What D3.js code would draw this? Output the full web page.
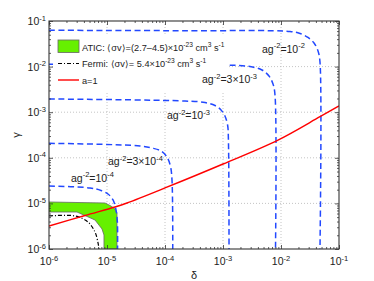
<!DOCTYPE html>
<html>
<head>
<meta charset="utf-8">
<script src="https://cdn.jsdelivr.net/npm/d3@7"></script>
<style>
body { margin: 0; background: #fff; }
text { font-family: "Liberation Sans", Arial, Helvetica, sans-serif; fill: #222; }
</style>
</head>
<body>
<div id="chart"></div>
<script>

// major decades on both axes
var decades = [1e-6, 1e-5, 1e-4, 1e-3, 1e-2, 1e-1];
var decadeLabels = ["10^{-6}", "10^{-5}", "10^{-4}", "10^{-3}", "10^{-2}", "10^{-1}"];

// blue dashed contours, [delta, gamma]
var curveAg1e2 = [[1e-6, 6.25e-2], [2.21e-4, 6.12e-2], [1.43e-2, 5.88e-2], [2.13e-2, 5.32e-2],
    [2.92e-2, 4.35e-2], [3.71e-2, 3.29e-2], [4.35e-2, 2.2e-2], [4.7e-2, 1.26e-2], [4.7e-2, 1e-6]];
var curveAg3e3 = [[1e-6, 1.12e-2], [1.17e-3, 1.08e-2], [2.92e-3, 1.0e-2], [4.7e-3, 8.42e-3],
    [6.21e-3, 6.22e-3], [7.28e-3, 4.15e-3], [7.88e-3, 2.38e-3], [8.04e-3, 1e-6]];
var curveAg1e3 = [[1e-6, 1.95e-3], [2.21e-4, 1.76e-3], [4.9e-4, 1.63e-3], [7.28e-4, 1.40e-3],
    [9.25e-4, 1.12e-3], [1.08e-3, 8.26e-4], [1.20e-3, 5.24e-4], [1.24e-3, 2.45e-4], [1.27e-3, 1e-6]];
var curveAg3e4 = [[1e-6, 2.08e-4], [3.71e-5, 1.82e-4], [5.97e-5, 1.64e-4], [8.53e-5, 1.41e-4],
    [1.08e-4, 1.04e-4], [1.24e-4, 6.61e-5], [1.32e-4, 3.26e-5], [1.36e-4, 1e-6]];
var curveAg1e4 = [[1e-6, 2.41e-5], [5.09e-6, 2.18e-5], [7.88e-6, 1.92e-5], [1.04e-5, 1.61e-5],
    [1.27e-5, 1.19e-5], [1.43e-5, 7.16e-6], [1.51e-5, 3.91e-6], [1.52e-5, 1e-6]];

var curveLabels = ["ag^{-2}=10^{-2}", "ag^{-2}=3\u00d710^{-3}", "ag^{-2}=10^{-3}",
    "ag^{-2}=3\u00d710^{-4}", "ag^{-2}=10^{-4}"];
// where each label starts (left, baseline), in data units
var labelAnchors = [[4.7e-3, 2.02e-2], [4.35e-4, 4.31e-3], [1.08e-4, 7.1e-4],
    [1.04e-5, 6.95e-5], [2.39e-6, 2.99e-5]];

// ATIC band: outer edge then inner edge
var aticOuter = [[1e-6, 1.074e-5], [9.25e-6, 1.02e-5], [1.17e-5, 8.77e-6], [1.37e-5, 7.53e-6],
    [1.486e-5, 6.15e-6], [1.486e-5, 1e-6]];
var aticInner = [[1e-6, 6.47e-6], [3.04e-6, 6.47e-6], [6.21e-6, 4.33e-6], [8.2e-6, 2.75e-6],
    [8.87e-6, 2.03e-6], [8.87e-6, 1e-6]];

// Fermi curve
var fermi = [[1e-6, 5.3e-6], [2.81e-6, 5.3e-6], [4.7e-6, 3.91e-6], [6.21e-6, 2.36e-6],
    [7.0e-6, 1.36e-6], [7.28e-6, 1e-6]];

// a = 1
var aOne = [[1e-6, 3.19e-6], [4.18e-6, 5.43e-6], [1.37e-5, 8.34e-6], [2.21e-5, 1.02e-5],
    [1e-4, 2.18e-5], [1e-3, 7.31e-5], [8.87e-3, 2.45e-4], [4.7e-2, 7.96e-4], [1e-1, 1.37e-3]];

var legendLabels = ["ATIC: \u27e8\u03c3v\u27e9=(2.7\u20134.5)\u00d710^{-23} cm^{3} s^{-1}",
    "Fermi: \u27e8\u03c3v\u27e9= 5.4\u00d710^{-23} cm^{3} s^{-1}", "a=1"];

//////////////////////////////////////////////////////////

var W = 374, H = 281,
    pl = 49, pr = 339, pt = 21, pb = 249;

var blue = "#2248ff";

var svg = d3.select("#chart").append("svg")
    .attr("width", W).attr("height", H);

var x = d3.scaleLog().domain([1e-6, 1e-1]).range([pl, pr]);
var y = d3.scaleLog().domain([1e-6, 1e-1]).range([pb, pt]);

// text with ^{...} superscripts
function rich(sel, str, size) {
    var parts = str.split(/\^\{([^}]*)\}/),
        up = false;
    parts.forEach(function(p, i) {
        if (p === "") return;
        var sup = (i % 2 == 1);
        var ts = sel.append("tspan").text(p)
            .style("font-size", (sup ? size * 0.72 : size) + "px");
        if (sup && !up) { ts.attr("dy", -size * 0.42); up = true; }
        else if (!sup && up) { ts.attr("dy", size * 0.42); up = false; }
    });
}

svg.append("defs").append("clipPath").attr("id", "clip")
    .append("rect").attr("x", pl).attr("y", pt)
    .attr("width", pr - pl).attr("height", pb - pt);

// grid
var grid = svg.append("g");
grid.selectAll(".gx").data(decades.slice(1, -1)).enter().append("line")
    .attr("x1", function(d) { return x(d); }).attr("x2", function(d) { return x(d); })
    .attr("y1", pt).attr("y2", pb);
grid.selectAll(".gy").data(decades.slice(1, -1)).enter().append("line")
    .attr("y1", function(d) { return y(d); }).attr("y2", function(d) { return y(d); })
    .attr("x1", pl).attr("x2", pr);
grid.selectAll("line")
    .style("stroke", "#b5b5b5").style("stroke-width", 0.8)
    .style("stroke-dasharray", "1,2");

var plot = svg.append("g").attr("clip-path", "url(#clip)");

var line = d3.line()
    .x(function(d) { return x(d[0]); })
    .y(function(d) { return y(d[1]); });

var smooth = d3.line()
    .x(function(d) { return x(d[0]); })
    .y(function(d) { return y(d[1]); })
    .curve(d3.curveCatmullRom.alpha(0.5));

// ATIC band
plot.append("path")
    .attr("d", line(aticOuter.concat(aticInner.slice().reverse())) + "Z")
    .style("fill", "#66f000")
    .style("stroke", "#666")
    .style("stroke-width", 0.8);

// Fermi
plot.append("path")
    .attr("d", smooth(fermi))
    .style("fill", "none").style("stroke", "#000")
    .style("stroke-width", 1.2)
    .style("stroke-dasharray", "4,2,1,2");

// blue contours
var contours = [curveAg1e2, curveAg3e3, curveAg1e3, curveAg3e4, curveAg1e4];
plot.selectAll(".contour").data(contours).enter().append("path")
    .attr("class", "contour")
    .attr("d", function(d) { return smooth(d); })
    .style("fill", "none").style("stroke", blue)
    .style("stroke-width", 1.5)
    .style("stroke-dasharray", "6,3.5");

// a = 1
plot.append("path")
    .attr("d", smooth(aOne))
    .style("fill", "none").style("stroke", "#ff0000")
    .style("stroke-width", 1.4);

// legend
var lg = svg.append("g");
lg.append("rect")
    .attr("x", pl + 4).attr("y", pt + 14)
    .attr("width", 174).attr("height", 57)
    .style("fill", "#fff");
lg.append("rect")
    .attr("x", pl + 9).attr("y", pt + 19)
    .attr("width", 21).attr("height", 12.5)
    .style("fill", "#66f000").style("stroke", "#666").style("stroke-width", 0.8);
lg.append("line")
    .attr("x1", pl + 9).attr("x2", pl + 30)
    .attr("y1", pt + 42.5).attr("y2", pt + 42.5)
    .style("stroke", "#000").style("stroke-width", 1.2)
    .style("stroke-dasharray", "4,2,1,2");
lg.append("line")
    .attr("x1", pl + 9).attr("x2", pl + 30)
    .attr("y1", pt + 59).attr("y2", pt + 59)
    .style("stroke", "#ff0000").style("stroke-width", 1.4);
lg.selectAll(".ltext").data(legendLabels).enter().append("text")
    .attr("x", pl + 33)
    .attr("y", function(d, i) { return pt + 29.5 + i * 16.5; })
    .each(function(d) { rich(d3.select(this), d, 9.2); });

// contour labels (over the legend box)
svg.selectAll(".clabel").data(curveLabels).enter().append("text")
    .attr("class", "clabel")
    .attr("x", function(d, i) { return x(labelAnchors[i][0]); })
    .attr("y", function(d, i) { return y(labelAnchors[i][1]); })
    .each(function(d) { rich(d3.select(this), d, 10.5); });

// axes: ticks inward on all four sides
var minor = x.ticks().filter(function(d) { return decades.indexOf(d) < 0; });

function tickAxis(axis, vals, len) {
    return axis.tickValues(vals).tickSize(-len).tickFormat("");
}

var axes = svg.append("g");
axes.append("g").attr("transform", "translate(0," + pb + ")")
    .call(tickAxis(d3.axisBottom(x), decades, 4));
axes.append("g").attr("transform", "translate(0," + pb + ")")
    .call(tickAxis(d3.axisBottom(x), minor, 2));
axes.append("g").attr("transform", "translate(0," + pt + ")")
    .call(tickAxis(d3.axisTop(x), decades, 4));
axes.append("g").attr("transform", "translate(0," + pt + ")")
    .call(tickAxis(d3.axisTop(x), minor, 2));
axes.append("g").attr("transform", "translate(" + pl + ",0)")
    .call(tickAxis(d3.axisLeft(y), decades, 4));
axes.append("g").attr("transform", "translate(" + pl + ",0)")
    .call(tickAxis(d3.axisLeft(y), minor, 2));
axes.append("g").attr("transform", "translate(" + pr + ",0)")
    .call(tickAxis(d3.axisRight(y), decades, 4));
axes.append("g").attr("transform", "translate(" + pr + ",0)")
    .call(tickAxis(d3.axisRight(y), minor, 2));
axes.selectAll(".domain").remove();
axes.selectAll(".tick line").style("stroke", "#333").style("stroke-width", 0.8);
axes.selectAll(".tick text").remove();

svg.append("rect")
    .attr("x", pl).attr("y", pt)
    .attr("width", pr - pl).attr("height", pb - pt)
    .style("fill", "none").style("stroke", "#333").style("stroke-width", 1.1);

// tick labels
svg.selectAll(".xlab").data(decades).enter().append("text")
    .attr("x", function(d) { return x(d); })
    .attr("y", pb + 16)
    .attr("text-anchor", "middle")
    .each(function(d, i) { rich(d3.select(this), decadeLabels[i], 10.5); });

svg.selectAll(".ylab").data(decades).enter().append("text")
    .attr("x", pl - 3)
    .attr("y", function(d) { return y(d) + 4; })
    .attr("text-anchor", "end")
    .each(function(d, i) { rich(d3.select(this), decadeLabels[i], 10.5); });

// axis titles
svg.append("text")
    .attr("x", (pl + pr) / 2).attr("y", pb + 30)
    .attr("text-anchor", "middle")
    .style("font-size", "11px")
    .text("\u03b4");
svg.append("text")
    .attr("transform", "translate(20," + ((pt + pb) / 2) + ") rotate(-90)")
    .attr("text-anchor", "middle")
    .style("font-size", "11px")
    .text("\u03b3");

</script>
</body>
</html>
